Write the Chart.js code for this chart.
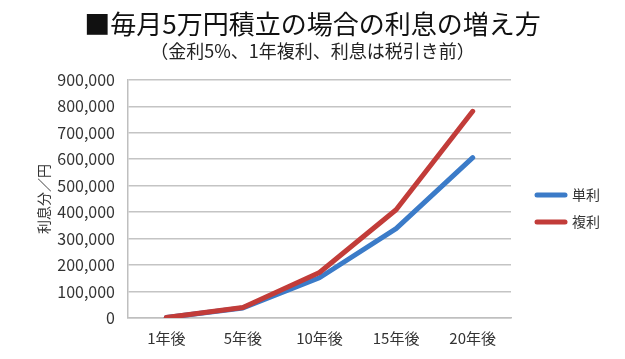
<!DOCTYPE html>
<html>
<head>
<meta charset="utf-8">
<script src="https://cdn.jsdelivr.net/npm/chart.js@4/dist/chart.umd.min.js"></script>
<style>
  html, body { margin: 0; padding: 0; background: #ffffff; }
  #wrap { width: 625px; height: 359px; }
</style>
</head>
<body>
<div id="wrap"><canvas id="c" width="625" height="359"></canvas></div>
<script>
const titleText = '■毎月5万円積立の場合の利息の増え方';
const subtitleText = '（金利5%、1年複利、利息は税引き前）';
const yAxisTitle = '利息分／円';
const categories = ['1年後', '5年後', '10年後', '15年後', '20年後'];
const seriesNames = ['単利', '複利'];
const simpleInterest = [1600, 38000, 152000, 338000, 606000];
const compoundInterest = [1700, 40000, 172000, 409000, 781000];
const yMin = 0, yMax = 900000, yStep = 100000;

const FONT = '"Noto Sans CJK JP", "Noto Sans", sans-serif';

const sideLegend = {
  id: 'sideLegend',
  afterDraw(chart, args, opts) {
    const ctx = chart.ctx;
    const x0 = chart.chartArea.right + opts.gap;
    chart.data.datasets.forEach((ds, i) => {
      const y = opts.top + i * opts.spacing;
      ctx.save();
      ctx.strokeStyle = ds.borderColor;
      ctx.lineWidth = ds.borderWidth;
      ctx.lineCap = 'round';
      ctx.beginPath();
      ctx.moveTo(x0, y);
      ctx.lineTo(x0 + opts.len, y);
      ctx.stroke();
      ctx.fillStyle = '#333333';
      ctx.font = opts.fontSize + 'px ' + FONT;
      ctx.textBaseline = 'middle';
      ctx.textAlign = 'left';
      ctx.fillText(ds.label, x0 + opts.len + opts.textGap, y);
      ctx.restore();
    });
  }
};

new Chart(document.getElementById('c'), {
  type: 'line',
  data: {
    labels: categories,
    datasets: [
      {
        label: seriesNames[0],
        data: simpleInterest,
        borderColor: '#3b7bc8',
        backgroundColor: '#3b7bc8',
        borderWidth: 5,
        pointRadius: 0,
        tension: 0,
        borderCapStyle: 'round',
        borderJoinStyle: 'round',
        order: 1
      },
      {
        label: seriesNames[1],
        data: compoundInterest,
        borderColor: '#c23c39',
        backgroundColor: '#c23c39',
        borderWidth: 5,
        pointRadius: 0,
        tension: 0,
        borderCapStyle: 'round',
        borderJoinStyle: 'round',
        order: 0
      }
    ]
  },
  options: {
    responsive: false,
    animation: false,
    devicePixelRatio: 1,
    layout: { padding: { left: 0, right: 0, top: 0, bottom: 0 } },
    plugins: {
      legend: { display: false },
      tooltip: { enabled: false },
      title: {
        display: true,
        text: titleText,
        color: '#111111',
        font: { family: FONT, size: 26, weight: 'normal' },
        padding: { top: 9, bottom: 0 }
      },
      subtitle: {
        display: true,
        text: subtitleText,
        color: '#222222',
        font: { family: FONT, size: 18, weight: 'normal' },
        padding: { top: 0, bottom: 18 }
      },
      sideLegend: { gap: 26, len: 28, top: 195, spacing: 27, fontSize: 14, textGap: 7 }
    },
    scales: {
      x: {
        offset: true,
        grid: { display: false, drawTicks: false },
        border: { display: true, color: '#bfbfbf', width: 1.5 },
        ticks: { color: '#333333', font: { family: FONT, size: 15 }, padding: 11, maxRotation: 0 },
        afterFit(scale) { scale.height = 41; }
      },
      y: {
        min: yMin,
        max: yMax,
        ticks: {
          stepSize: yStep,
          color: '#333333',
          font: { family: FONT, size: 16 },
          padding: 13,
          callback: (v) => Number(v).toLocaleString('en-US')
        },
        grid: { color: '#c4c4c4', lineWidth: 1.5, drawTicks: false },
        border: { display: true, color: '#bfbfbf', width: 1.5 },
        title: {
          display: true,
          text: yAxisTitle,
          color: '#333333',
          font: { family: FONT, size: 14 },
          padding: { top: 35, bottom: 0 }
        },
        afterFit(scale) { scale.width = 128; }
      },
      legendSpace: {
        type: 'linear',
        position: 'right',
        display: true,
        grid: { display: false, drawTicks: false },
        border: { display: false },
        ticks: { display: false },
        afterFit(scale) { scale.width = 114; }
      }
    }
  },
  plugins: [sideLegend]
});
</script>
</body>
</html>
